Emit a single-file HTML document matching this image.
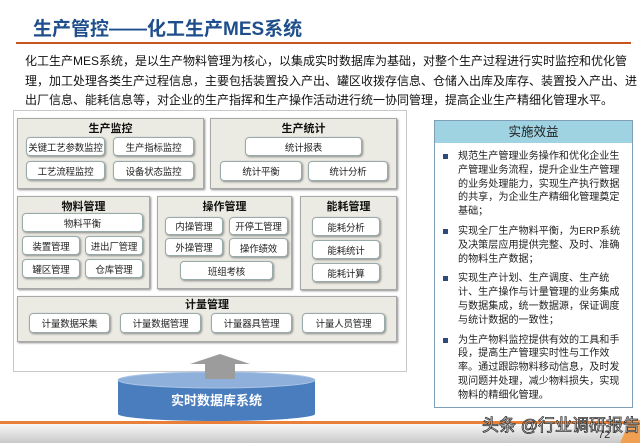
<!DOCTYPE html>
<html><head><meta charset="utf-8"><style>
*{margin:0;padding:0;box-sizing:border-box}
body{width:640px;height:443px;position:relative;background:#fff;font-family:"Liberation Sans","Noto Sans CJK SC",sans-serif;overflow:hidden;color:#222}
.a{position:absolute}
.sec{position:absolute;background:#ecebe3;border:1px solid #a8a8a8;box-shadow:1px 1px 2px #888}
.st{position:absolute;left:0;right:0;text-align:center;font-weight:bold;font-size:11px;line-height:14px;color:#111}
.b{position:absolute;background:#fff;border:1px solid #9aa;border-radius:4px;box-shadow:1px 1px 2px #888;font-size:9.5px;letter-spacing:-0.2px;white-space:nowrap;text-align:center;display:flex;align-items:center;justify-content:center;color:#222}
.p{font-size:12px;line-height:19.7px;color:#111}
.p div{white-space:nowrap;text-align:justify;text-align-last:justify}
ul{list-style:none}
li{position:relative;padding-left:26px;font-size:10.1px;line-height:13.8px;margin-bottom:6px;color:#222}
li:before{content:"";position:absolute;left:11px;top:4px;width:5px;height:5px;background:#2d4a7a}
</style></head><body>
<div class="a" style="left:33px;top:14px;font-size:19px;font-weight:bold;color:#1e4e8c">生产管控——化工生产MES系统</div>
<div class="a" style="left:16px;top:42px;width:615px;height:2px;background:#c8551e"></div>
<div class="a p" style="left:25px;top:52px;width:600px">
<div>化工生产MES系统，是以生产物料管理为核心，以集成实时数据库为基础，对整个生产过程进行实时监控和优化管</div>
<div>理，加工处理各类生产过程信息，主要包括装置投入产出、罐区收拨存信息、仓储入出库及库存、装置投入产出、进</div>
<div style="text-align-last:left">出厂信息、能耗信息等，对企业的生产指挥和生产操作活动进行统一协同管理，提高企业生产精细化管理水平。</div>
</div>

<div class="a" style="left:13px;top:110px;width:394px;height:262px;border:1px solid #c8c8c8;background:#fff"></div>

<div class="sec" style="left:17px;top:118px;width:187px;height:71px"><div class="st" style="top:3px">生产监控</div></div>
<div class="b" style="left:26px;top:137px;width:79px;height:19px">关键工艺参数监控</div>
<div class="b" style="left:113px;top:137px;width:81px;height:19px">生产指标监控</div>
<div class="b" style="left:26px;top:161px;width:79px;height:19px">工艺流程监控</div>
<div class="b" style="left:113px;top:161px;width:81px;height:19px">设备状态监控</div>

<div class="sec" style="left:210px;top:118px;width:187px;height:71px"><div class="st" style="top:3px">生产统计</div></div>
<div class="b" style="left:245px;top:137px;width:117px;height:19px">统计报表</div>
<div class="b" style="left:220px;top:161px;width:82px;height:20px">统计平衡</div>
<div class="b" style="left:308px;top:161px;width:80px;height:20px">统计分析</div>

<div class="sec" style="left:17px;top:196px;width:133px;height:93px"><div class="st" style="top:3px">物料管理</div></div>
<div class="b" style="left:22px;top:213px;width:121px;height:19px">物料平衡</div>
<div class="b" style="left:22px;top:236px;width:58px;height:19px">装置管理</div>
<div class="b" style="left:85px;top:236px;width:58px;height:19px">进出厂管理</div>
<div class="b" style="left:22px;top:259px;width:58px;height:19px">罐区管理</div>
<div class="b" style="left:85px;top:259px;width:58px;height:19px">仓库管理</div>

<div class="sec" style="left:157px;top:196px;width:135px;height:93px"><div class="st" style="top:3px">操作管理</div></div>
<div class="b" style="left:165px;top:217px;width:58px;height:18px">内操管理</div>
<div class="b" style="left:229px;top:217px;width:59px;height:18px">开停工管理</div>
<div class="b" style="left:165px;top:238px;width:58px;height:18px">外操管理</div>
<div class="b" style="left:229px;top:238px;width:59px;height:19px">操作绩效</div>
<div class="b" style="left:180px;top:261px;width:93px;height:19px">班组考核</div>

<div class="sec" style="left:300px;top:196px;width:97px;height:94px"><div class="st" style="top:3px">能耗管理</div></div>
<div class="b" style="left:312px;top:217px;width:68px;height:19px">能耗分析</div>
<div class="b" style="left:312px;top:240px;width:68px;height:19px">能耗统计</div>
<div class="b" style="left:312px;top:263px;width:68px;height:19px">能耗计算</div>

<div class="sec" style="left:17px;top:296px;width:380px;height:46px"><div class="st" style="top:1px">计量管理</div></div>
<div class="b" style="left:29px;top:313px;width:81px;height:20px">计量数据采集</div>
<div class="b" style="left:120px;top:313px;width:81px;height:20px">计量数据管理</div>
<div class="b" style="left:211px;top:313px;width:81px;height:20px">计量器具管理</div>
<div class="b" style="left:302px;top:313px;width:83px;height:20px">计量人员管理</div>

<svg class="a" style="left:0;top:0" width="640" height="443">
<defs><linearGradient id="g" x1="0" y1="0" x2="0" y2="1"><stop offset="0" stop-color="#fafafa"/><stop offset="1" stop-color="#c8c8c8"/></linearGradient></defs>
<path d="M118 380 L118 414 A98.5 7 0 0 0 315 414 L315 380 Z" fill="#4a7dbd"/>
<ellipse cx="216.5" cy="380" rx="98.5" ry="8" fill="#8fb0db" stroke="#a9c4e6"/>
<polygon points="190,364 220,354 250,364 235,364 235,379 205,379 205,364" fill="#9c9c9c"/>
<rect x="0" y="423" width="640" height="20" fill="url(#g)"/>
<rect x="0" y="421" width="640" height="3" fill="#e8803a"/>
<polygon points="620,443 630,420 640,420 640,443" fill="#f0a050"/>
</svg>
<div class="a" style="left:118px;top:390px;width:197px;text-align:center;color:#fff;font-weight:bold;font-size:13px">实时数据库系统</div>

<div class="a" style="left:434px;top:120px;width:199px;height:288px;border:1px solid #7f9fb8;background:#fff"></div>
<div class="a" style="left:435px;top:121px;width:197px;height:22px;background:#9fd3e2;text-align:center;font-size:12.5px;line-height:22px;color:#222">实施效益</div>
<ul class="a" style="left:432px;top:150px;width:191px">
<li>规范生产管理业务操作和优化企业生产管理业务流程，提升企业生产管理的业务处理能力，实现生产执行数据的共享，为企业生产精细化管理奠定基础；</li>
<li>实现全厂生产物料平衡，为ERP系统及决策层应用提供完整、及时、准确的物料生产数据；</li>
<li>实现生产计划、生产调度、生产统计、生产操作与计量管理的业务集成与数据集成，统一数据源，保证调度与统计数据的一致性；</li>
<li>为生产物料监控提供有效的工具和手段，提高生产管理实时性与工作效率。通过跟踪物料移动信息，及时发现问题并处理，减少物料损失，实现物料的精细化管理。</li>
</ul>
<div class="a" style="left:482px;top:411px;font-size:17px;color:#fff;-webkit-text-stroke:0.8px #333;white-space:nowrap">头条 @行业调研报告</div>
<div class="a" style="left:598px;top:429px;font-size:11px;color:#333">72</div>
</body></html>
